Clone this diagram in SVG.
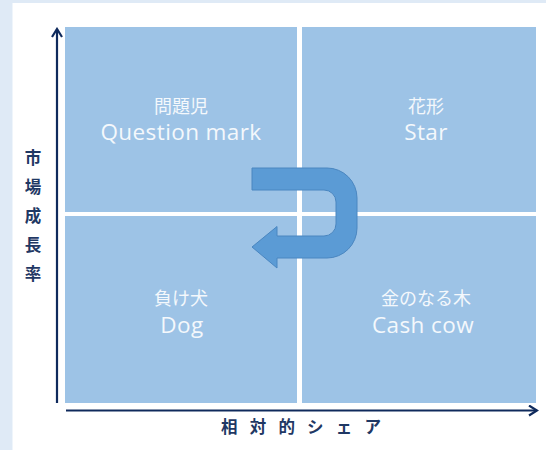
<svg xmlns="http://www.w3.org/2000/svg" width="546" height="450" viewBox="0 0 546 450">
<style>
.q{fill:#9dc3e6}
.jp{font-family:"Noto Sans CJK JP","Noto Sans",sans-serif;font-size:18px;fill:#f4f8fc;text-anchor:middle}
.en{font-family:"Open Sans","Noto Sans",sans-serif;font-size:22.5px;fill:#f4f8fc;text-anchor:middle;letter-spacing:0.4px}
.ax{stroke:#0f2a5c;stroke-width:2.2;fill:none}
.lbl{font-family:"Noto Sans CJK JP",sans-serif;font-size:16.5px;font-weight:bold;fill:#1f3864;text-anchor:middle}
</style>
<defs>
<marker id="ah" viewBox="0 0 12 12" refX="10" refY="6" markerWidth="12" markerHeight="12" markerUnits="userSpaceOnUse" orient="auto">
<path d="M2,1 L10,6 L2,11" fill="none" stroke="#0f2a5c" stroke-width="2.2"/>
</marker>
</defs>
<rect width="546" height="450" fill="#dfeaf6"/>
<rect x="12.5" y="3" width="534" height="447" fill="#ffffff"/>
<g id="q1"><rect class="q" x="65" y="27" width="232" height="185"/><text class="jp" x="181" y="112.5">問題児</text><text class="en" x="181" y="140">Question mark</text></g>
<g id="q2"><rect class="q" x="302" y="27" width="234" height="185"/><text class="jp" x="426" y="112.5">花形</text><text class="en" x="426" y="140">Star</text></g>
<g id="q3"><rect class="q" x="65" y="216" width="232" height="187"/><text class="jp" x="181" y="305">負け犬</text><text class="en" x="182" y="332.5">Dog</text></g>
<g id="q4"><rect class="q" x="302" y="216" width="234" height="187"/><text class="jp" x="426" y="305">金のなる木</text><text class="en" x="423" y="332.5">Cash cow</text></g>
<g id="uturn"><path d="M252,168 L327,168 A30,30 0 0 1 357,198 L357,228 A30,30 0 0 1 327,258 L277,258 L277,268 L252,247 L277,226.5 L277,236 L324,236 A12,12 0 0 0 336,224 L336,202 A12,12 0 0 0 324,190 L252,190 Z" fill="#5b9bd5" stroke="#4a86c0" stroke-width="1"/></g>
<g id="connectors">
<line class="ax" x1="57" y1="403" x2="57" y2="29" marker-end="url(#ah)"/>
<line class="ax" x1="66" y1="410.5" x2="537" y2="410.5" marker-end="url(#ah)"/>
</g>
<g id="labels">
<text class="lbl" x="33" y="164">市</text>
<text class="lbl" x="33" y="193">場</text>
<text class="lbl" x="33" y="222">成</text>
<text class="lbl" x="33" y="251">長</text>
<text class="lbl" x="33" y="280">率</text>
<text class="lbl" x="221" y="432.5" letter-spacing="12.2" style="text-anchor:start">相対的シェア</text>
</g>
</svg>
